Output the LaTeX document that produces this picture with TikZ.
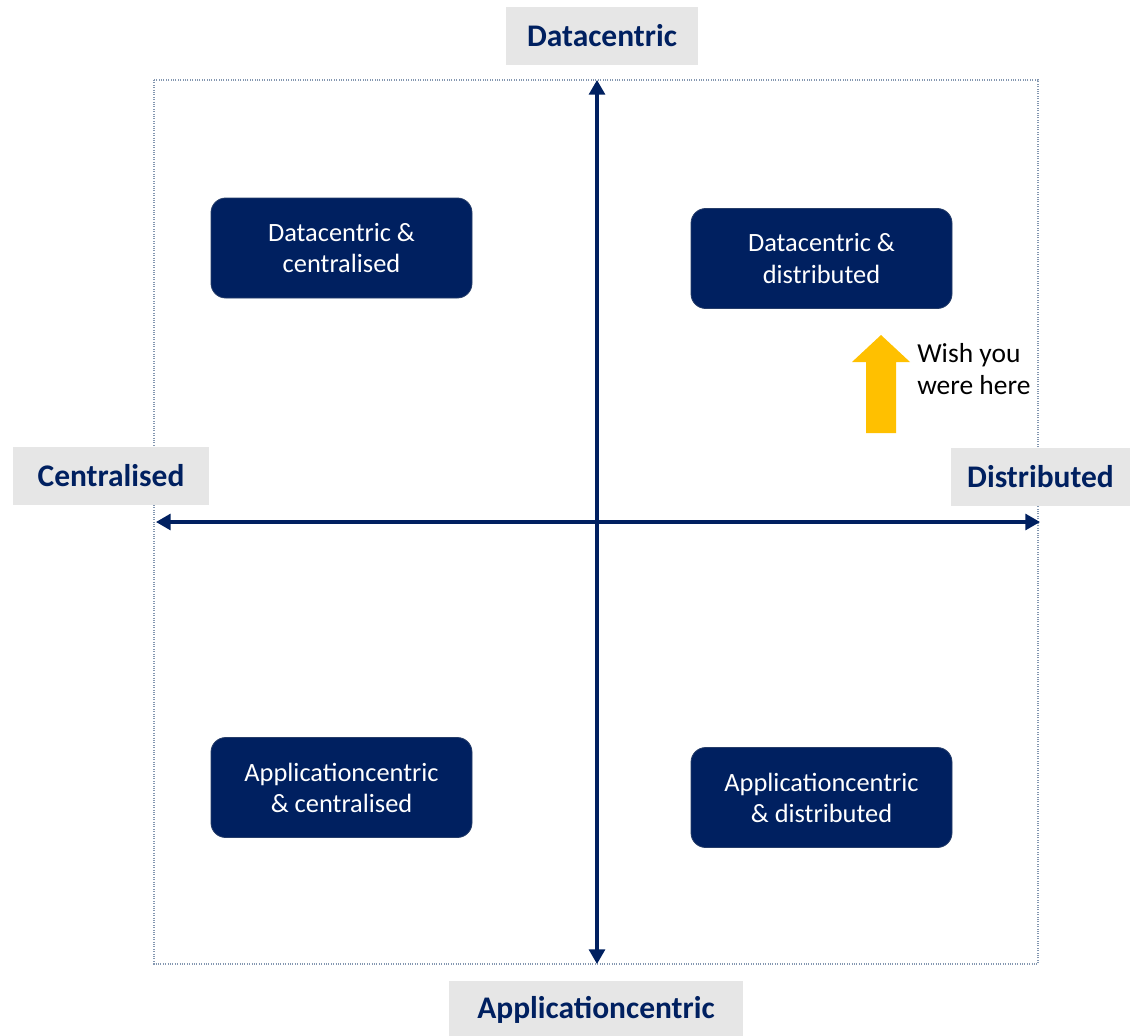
\documentclass[tikz,border=0pt]{standalone}
\usepackage{fontspec}
\setmainfont{Carlito}
\usetikzlibrary{arrows.meta}

\definecolor{navy}{HTML}{002060}
\definecolor{labelgray}{HTML}{E6E6E6}
\definecolor{wishyellow}{HTML}{FFC000}
\definecolor{framegray}{HTML}{8497B0}

\begin{document}
\begin{tikzpicture}[x=0.75pt,y=-0.75pt,
    quadbox/.style={draw=navy!70!gray, line width=0.6pt, fill=navy, rounded corners=11pt,
      text=white, align=center, inner sep=0pt, minimum width=195.75pt, minimum height=75pt,
      font=\fontsize{19.8}{23.3}\selectfont},
    axislabel/.style={fill=labelgray, text=navy, inner sep=0pt, minimum height=43.5pt,
      font=\bfseries\fontsize{23.6}{28}\selectfont},
    axisline/.style={navy, line width=2.3pt, {Triangle[length=11pt,width=12pt]}-{Triangle[length=11pt,width=12pt]}}]
        \useasboundingbox (0,0) rectangle (1130,1035);

        % frame
        \draw[framegray, densely dotted, line width=0.8pt] (154,80) rectangle (1038,964);

        % axes
        \coordinate (top) at (597,80);
        \coordinate (bottom) at (597,964);
        \coordinate (left) at (156,522);
        \coordinate (right) at (1040,522);
        \draw[axisline] (top) -- (bottom);
        \draw[axisline] (left) -- (right);

        % axis labels
        \node[axislabel, minimum width=144pt] (datacentric) at (602,36) {Datacentric};
        \node[axislabel, minimum width=147pt] (centralised) at (111,476) {Centralised};
        \node[axislabel, minimum width=134pt] (distributed) at (1040.5,477) {Distributed};
        \node[axislabel, minimum width=220.5pt] (appcentric) at (596,1010) {Applicationcentric};

        % quadrants
        \node[quadbox] (dc) at (341.5,248) {Datacentric \&\\centralised};
        \node[quadbox] (dd) at (821.5,258.5) {Datacentric \&\\distributed};
        \node[quadbox] (ac) at (341.5,787.5) {Applicationcentric\\\& centralised};
        \node[quadbox] (ad) at (821.5,797.5) {Applicationcentric\\\& distributed};

        % wish you were here
        \fill[wishyellow] (866,433) -- (866,362) -- (852,362) -- (881,335) -- (910,362) -- (896,362) -- (896,433) -- cycle;
        \node[anchor=west, align=left, inner sep=0pt, font=\fontsize{20.6}{24}\selectfont] (wish) at (917,369) {Wish you\\were here};
      \end{tikzpicture}
\end{document}
